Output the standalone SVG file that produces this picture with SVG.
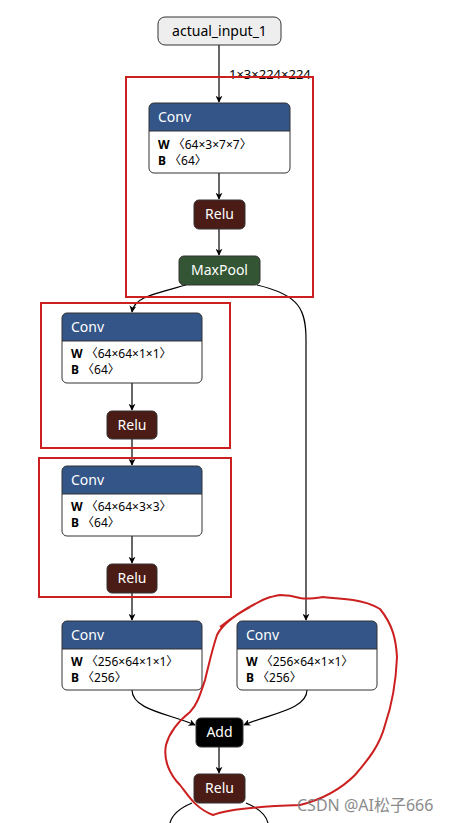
<svg xmlns="http://www.w3.org/2000/svg" width="451" height="823" viewBox="0 0 451 823">
<style>
text{font-family:"Noto Sans","Noto Sans CJK SC","DejaVu Sans",sans-serif}
.nt{fill:#fff;font-size:14px}
.bd{fill:#000;font-size:12px}
.b{font-weight:bold}
.hdr{fill:#335588}
.box{fill:none;stroke:#333;stroke-width:1}
.edge{fill:none;stroke:#000;stroke-width:1.2}
.red{fill:none;stroke:#cc1f1f;stroke-width:2}
</style>
<defs>
<marker id="ah" viewBox="0 0 10 10" refX="9" refY="5" markerWidth="7" markerHeight="7" orient="auto" markerUnits="userSpaceOnUse"><path d="M0,0 L10,5 L0,10 L3,5 Z" fill="#000"/></marker>
</defs>
<rect width="451" height="823" fill="#fff"/>

<g id="connectors">
<path class="edge" d="M219,45 V102" marker-end="url(#ah)"/>
<text x="229" y="79" style="font-size:13px;fill:#000">1×3×224×224</text>
<path class="edge" d="M219,173 V199" marker-end="url(#ah)"/>
<path class="edge" d="M219,229 V255" marker-end="url(#ah)"/>
<path class="edge" d="M186,285 C150,295 134,298 132,312" marker-end="url(#ah)"/>
<path class="edge" d="M257,285 C300,295 306,310 306,340 V620" marker-end="url(#ah)"/>
<path class="edge" d="M132,383 V410" marker-end="url(#ah)"/>
<path class="edge" d="M132,439 V465" marker-end="url(#ah)"/>
<path class="edge" d="M132,536 V563" marker-end="url(#ah)"/>
<path class="edge" d="M132,593 V620" marker-end="url(#ah)"/>
<path class="edge" d="M132,690 C132,710 170,714 195,725" marker-end="url(#ah)"/>
<path class="edge" d="M307,690 C307,710 268,714 244,725" marker-end="url(#ah)"/>
<path class="edge" d="M219,747 V773" marker-end="url(#ah)"/>
<path class="edge" d="M192,803 C180,808 172,815 170,823"/>
<path class="edge" d="M246,803 C258,808 266,815 268,823"/>
</g>

<g id="actual_input_1">
<rect x="158" y="17" width="123" height="28" rx="7" fill="#eee" stroke="#333"/>
<text x="219.5" y="36" text-anchor="middle" style="font-size:14px;fill:#000">actual_input_1</text>
</g>

<g id="conv1">
<path class="hdr" d="M149,131 V108 a5,5 0 0 1 5,-5 H285 a5,5 0 0 1 5,5 V131 Z"/>
<path d="M149,131 H290 V168 a5,5 0 0 1 -5,5 H154 a5,5 0 0 1 -5,-5 Z" fill="#fff"/>
<rect class="box" x="149" y="103" width="141" height="70" rx="5"/>
<line x1="149" y1="131" x2="290" y2="131" stroke="#333"/>
<text class="nt" x="158" y="122">Conv</text>
<text class="bd" x="158" y="149"><tspan class="b">W</tspan> 〈64×3×7×7〉</text>
<text class="bd" x="158" y="165"><tspan class="b">B</tspan> 〈64〉</text>
</g>

<g id="relu1">
<rect x="194" y="200" width="51" height="29" rx="5" fill="#4b1b16" stroke="#333"/>
<text class="nt" x="219.5" y="219" text-anchor="middle">Relu</text>
</g>

<g id="maxpool">
<rect x="179" y="256" width="81" height="29" rx="5" fill="#335533" stroke="#333"/>
<text class="nt" x="219.5" y="275" text-anchor="middle">MaxPool</text>
</g>

<g id="conv2">
<path class="hdr" d="M62,341 V318 a5,5 0 0 1 5,-5 H197 a5,5 0 0 1 5,5 V341 Z"/>
<path d="M62,341 H202 V378 a5,5 0 0 1 -5,5 H67 a5,5 0 0 1 -5,-5 Z" fill="#fff"/>
<rect class="box" x="62" y="313" width="140" height="70" rx="5"/>
<line x1="62" y1="341" x2="202" y2="341" stroke="#333"/>
<text class="nt" x="71" y="332">Conv</text>
<text class="bd" x="71" y="358"><tspan class="b">W</tspan> 〈64×64×1×1〉</text>
<text class="bd" x="71" y="374"><tspan class="b">B</tspan> 〈64〉</text>
</g>

<g id="relu2">
<rect x="107" y="411" width="50" height="28" rx="5" fill="#4b1b16" stroke="#333"/>
<text class="nt" x="132" y="430" text-anchor="middle">Relu</text>
</g>

<g id="conv3">
<path class="hdr" d="M62,494 V471 a5,5 0 0 1 5,-5 H197 a5,5 0 0 1 5,5 V494 Z"/>
<path d="M62,494 H202 V531 a5,5 0 0 1 -5,5 H67 a5,5 0 0 1 -5,-5 Z" fill="#fff"/>
<rect class="box" x="62" y="466" width="140" height="70" rx="5"/>
<line x1="62" y1="494" x2="202" y2="494" stroke="#333"/>
<text class="nt" x="71" y="485">Conv</text>
<text class="bd" x="71" y="511"><tspan class="b">W</tspan> 〈64×64×3×3〉</text>
<text class="bd" x="71" y="527"><tspan class="b">B</tspan> 〈64〉</text>
</g>

<g id="relu3">
<rect x="107" y="564" width="50" height="29" rx="5" fill="#4b1b16" stroke="#333"/>
<text class="nt" x="132" y="583" text-anchor="middle">Relu</text>
</g>

<g id="conv4">
<path class="hdr" d="M62,649 V626 a5,5 0 0 1 5,-5 H197 a5,5 0 0 1 5,5 V649 Z"/>
<path d="M62,649 H202 V685 a5,5 0 0 1 -5,5 H67 a5,5 0 0 1 -5,-5 Z" fill="#fff"/>
<rect class="box" x="62" y="621" width="140" height="69" rx="5"/>
<line x1="62" y1="649" x2="202" y2="649" stroke="#333"/>
<text class="nt" x="71" y="640">Conv</text>
<text class="bd" x="71" y="666"><tspan class="b">W</tspan> 〈256×64×1×1〉</text>
<text class="bd" x="71" y="682"><tspan class="b">B</tspan> 〈256〉</text>
</g>

<g id="conv5">
<path class="hdr" d="M237,649 V626 a5,5 0 0 1 5,-5 H372 a5,5 0 0 1 5,5 V649 Z"/>
<path d="M237,649 H377 V685 a5,5 0 0 1 -5,5 H242 a5,5 0 0 1 -5,-5 Z" fill="#fff"/>
<rect class="box" x="237" y="621" width="140" height="69" rx="5"/>
<line x1="237" y1="649" x2="377" y2="649" stroke="#333"/>
<text class="nt" x="246" y="640">Conv</text>
<text class="bd" x="246" y="666"><tspan class="b">W</tspan> 〈256×64×1×1〉</text>
<text class="bd" x="246" y="682"><tspan class="b">B</tspan> 〈256〉</text>
</g>

<g id="add">
<rect x="196" y="718" width="47" height="29" rx="5" fill="#000" stroke="#333"/>
<text class="nt" x="219.5" y="737" text-anchor="middle">Add</text>
</g>

<g id="relu4">
<rect x="194" y="774" width="51" height="29" rx="5" fill="#4b1b16" stroke="#333"/>
<text class="nt" x="219.5" y="793" text-anchor="middle">Relu</text>
</g>

<g id="annotations">
<rect class="red" x="126" y="77" width="187" height="220"/>
<rect class="red" x="41" y="303" width="189" height="145"/>
<rect class="red" x="39" y="458" width="192" height="139"/>
<path class="red" d="M250,607 C235,615 222,625 217,635 C212,650 210,660 205,680 C200,695 197,705 190,712 C180,720 170,730 166,745 C163,760 170,775 180,785 C188,795 195,808 213,815 C230,808 270,806 300,805 C320,800 340,790 355,775 C368,760 380,745 385,725 C392,705 396,680 397,657 C396,640 393,625 380,609 C370,603 360,601 353,600 C340,598 330,598 323,597 C310,599 305,599 300,598 C290,595 285,595 280,595 C270,597 265,598 255,604 C245,609 237,614 220,627"/>
<text x="297" y="811" style="font-size:16px;fill:#777;opacity:0.85">CSDN @AI松子666</text>
</g>
</svg>
